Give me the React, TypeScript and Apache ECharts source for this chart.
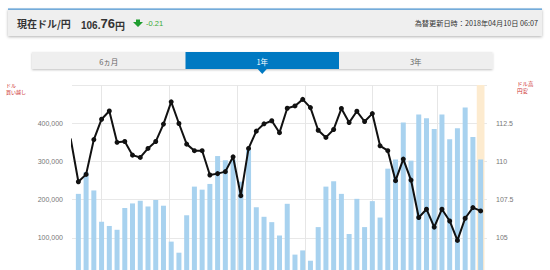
import React, { useEffect, useRef } from 'react';
import * as echarts from 'echarts';

const DAY = 86400000;
const firstWeek = '2017-04-10';
const weekCount = 53;
const priorWeek = '2017-04-03';
const priorRate = 111.5;

// IMM net USD long positions (left axis)
const netPositions = [
  215000, 272000, 224000, 142000, 131000, 121000, 178000, 190000, 197000, 182000,
  199000, 184000, 90000, 61000, 159000, 234000, 226000, 241000, 314000, 303000,
  305000, 247000, 330000, 180000, 155000, 141000, 106000, 189000, 56000, 67000,
  40000, 128000, 234000, 248000, 215000, 110000, 202000, 128000, 196000, 153000,
  281000, 305000, 402000, 302000, 423000, 413000, 385000, 423000, 358000, 387000,
  441000, 364000, 305000,
];

// USD/JPY rate (right axis)
const usdJpy = [
  108.67, 109.15, 111.43, 112.76, 113.3, 111.25, 111.3, 110.41, 110.26, 110.85,
  111.3, 112.44, 113.9, 112.48, 111.13, 110.7, 110.7, 109.11, 109.2, 109.33,
  110.3, 107.76, 110.85, 111.98, 112.46, 112.66, 111.88, 113.48, 113.63, 114.06,
  113.52, 112.04, 111.57, 112.09, 113.46, 112.54, 113.28, 112.61, 113.13, 111.02,
  110.7, 108.74, 110.15, 108.78, 106.33, 106.87, 105.7, 106.87, 106.1, 104.83,
  106.28, 106.98, 106.76,
];

const gridMonths = ['2017-05-01', '2017-07-01', '2017-09-01', '2017-11-01', '2018-01-01', '2018-03-01'];
const tabs = ['6ヵ月', '1年', '3年'];
const activeTab = 1;
const titleText = '現在ドル/円';
const priceMain = '106.';
const priceSub = '76';
const change = '-0.21';
const updatedText = '為替更新日時：2018年04月10日 06:07';
const leftAxisName = ['ドル', '買い越し'];
const rightAxisName = ['ドル高', '円安'];

const ts = (s: string) => {
  const [y, m, d] = s.split('-').map(Number);
  return new Date(y, m - 1, d).getTime();
};
const weekDates: number[] = [];
for (let i = 0; i < weekCount; i++) {
  const [y, m, d] = firstWeek.split('-').map(Number);
  weekDates.push(new Date(y, m - 1, d + 7 * i).getTime());
}

export default function App() {
  const ref = useRef<HTMLDivElement>(null);
  useEffect(() => {
    if (!ref.current) return;
    const chart = echarts.init(ref.current, null, { renderer: 'svg' });
    const xMin = weekDates[0] - 3.5 * DAY;
    const xMax = weekDates[weekDates.length - 1] + 3.5 * DAY;
    const jp = '"Noto Sans CJK JP", sans-serif';
    const lat = '"Liberation Sans", Arial, sans-serif';
    const tabX0 = 32, tabW = 153.5, tabY = 52, tabH = 17;
    const tabEls: any[] = [
      { type: 'rect', shape: { x: tabX0, y: tabY, width: tabW * 3, height: tabH }, style: { fill: '#efefef', shadowBlur: 2, shadowOffsetY: 1, shadowColor: 'rgba(0,0,0,0.25)' } },
      { type: 'rect', shape: { x: tabX0 + tabW * activeTab, y: tabY, width: tabW, height: tabH }, style: { fill: '#0079c2' } },
      { type: 'polygon', shape: { points: [[tabX0 + tabW * 1.5 - 4.5, tabY + tabH], [tabX0 + tabW * 1.5 + 4.5, tabY + tabH], [tabX0 + tabW * 1.5, tabY + tabH + 5]] }, style: { fill: '#0079c2' } },
    ];
    tabs.forEach((t, i) => {
      tabEls.push({
        type: 'text', x: tabX0 + tabW * (i + 0.5), y: tabY + tabH / 2 + 0.5,
        style: { text: t, fontSize: 7.5, fontFamily: jp, fill: i === activeTab ? '#ffffff' : '#666666', textAlign: 'center', textVerticalAlign: 'middle' },
      });
    });
    const nameEls: any[] = [];
    leftAxisName.forEach((t, i) => {
      nameEls.push({ type: 'text', x: 6, y: 84.5 + i * 7, style: { text: t, fontSize: 5, fontFamily: jp, fill: '#cc2b2b', textVerticalAlign: 'middle' } });
    });
    rightAxisName.forEach((t, i) => {
      nameEls.push({ type: 'text', x: 517, y: 84 + i * 7, style: { text: t, fontSize: 5.5, fontFamily: jp, fill: '#cc2b2b', textVerticalAlign: 'middle' } });
    });

    chart.setOption({
      animation: false,
      grid: { left: 72, right: 63, top: 85, bottom: 14, containLabel: false, outerBoundsMode: 'none' },
      xAxis: {
        type: 'time', min: xMin, max: xMax,
        axisLabel: { show: false }, axisTick: { show: false }, splitLine: { show: false },
        axisLine: { show: false },
      },
      yAxis: [
        {
          type: 'value', min: 0, max: 500000, interval: 100000, position: 'left',
          axisLine: { show: false }, axisTick: { show: false },
          axisLabel: { showMaxLabel: false, showMinLabel: false, margin: 9, fontSize: 7, color: '#777', fontFamily: lat, formatter: (v: number) => (v === 0 ? '' : v.toLocaleString('en-US')) },
          splitLine: { lineStyle: { color: '#e8e8e8', width: 1 } },
        },
        {
          type: 'value', min: 102.5, max: 115, interval: 2.5, position: 'right',
          axisLine: { show: false }, axisTick: { show: false },
          axisLabel: { showMaxLabel: false, showMinLabel: false, margin: 9, fontSize: 7, color: '#777', fontFamily: lat, formatter: (v: number) => (v <= 102.5 ? '' : String(v)) },
          splitLine: { show: false },
        },
      ],
      series: [
        {
          type: 'bar', yAxisIndex: 0, barWidth: 5,
          itemStyle: { color: '#a8d2ef' },
          data: weekDates.map((d, i) => [d, netPositions[i]]),
          markArea: {
            silent: true, z: 0,
            itemStyle: { color: '#fdebcf' },
            data: [[{ xAxis: weekDates[weekDates.length - 1] - 3.5 * DAY }, { xAxis: xMax }]],
          },
          markLine: {
            silent: true, z: 1, symbol: ['none', 'none'], label: { show: false },
            lineStyle: { color: '#e6e6e6', type: 'solid', width: 1 },
            data: gridMonths.map((m) => ({ xAxis: ts(m) })),
          },
        },
        {
          type: 'line', yAxisIndex: 1, z: 3,
          symbol: 'circle', symbolSize: 5, showAllSymbol: true,
          lineStyle: { color: '#111', width: 2 }, itemStyle: { color: '#111' },
          data: [[ts(priorWeek), priorRate], ...weekDates.map((d, i) => [d, usdJpy[i]])],
        },
      ],
      graphic: [
        { type: 'rect', shape: { x: 8, y: 9, width: 534, height: 27 }, style: { fill: '#efefef', shadowBlur: 3, shadowOffsetY: 1, shadowColor: 'rgba(0,0,0,0.3)' } },
        { type: 'rect', shape: { x: 8, y: 8.5, width: 534, height: 1.2 }, style: { fill: '#4a95d3' } },
        { type: 'text', x: 17, y: 23.5, style: { text: titleText, fontSize: 10, fontWeight: 'bold', fontFamily: jp, fill: '#333', textVerticalAlign: 'middle' } },
        {
          type: 'text', x: 81, y: 23.5,
          style: {
            text: '{a|' + priceMain + '}{b|' + priceSub + '}{c|円}', textVerticalAlign: 'middle',
            rich: {
              a: { fontSize: 10, fontWeight: 'bold', fontFamily: lat, fill: '#333', verticalAlign: 'bottom' },
              b: { fontSize: 13, fontWeight: 'bold', fontFamily: lat, fill: '#333', verticalAlign: 'bottom' },
              c: { fontSize: 10, fontWeight: 'bold', fontFamily: jp, fill: '#333', verticalAlign: 'bottom' },
            },
          },
        },
        { type: 'polygon', shape: { points: [[136, 19.5], [140, 19.5], [140, 22], [143, 22], [138, 27], [133, 22], [136, 22]] }, style: { fill: '#1f9d2f' } },
        { type: 'text', x: 146, y: 23.5, style: { text: change, fontSize: 7.5, fontFamily: lat, fill: '#3aaa35', textVerticalAlign: 'middle' } },
        { type: 'text', x: 538, y: 23, style: { text: updatedText, fontSize: 7.2, fontFamily: jp, fill: '#333', textAlign: 'right', textVerticalAlign: 'middle' } },
        ...tabEls,
        ...nameEls,
      ],
    });
    return () => chart.dispose();
  }, []);
  return (
    <div style={{ position: 'absolute', left: 0, top: 0, width: 550, height: 270, overflow: 'hidden', background: '#fff' }}>
      <div ref={ref} style={{ width: 550, height: 290 }} />
    </div>
  );
}
